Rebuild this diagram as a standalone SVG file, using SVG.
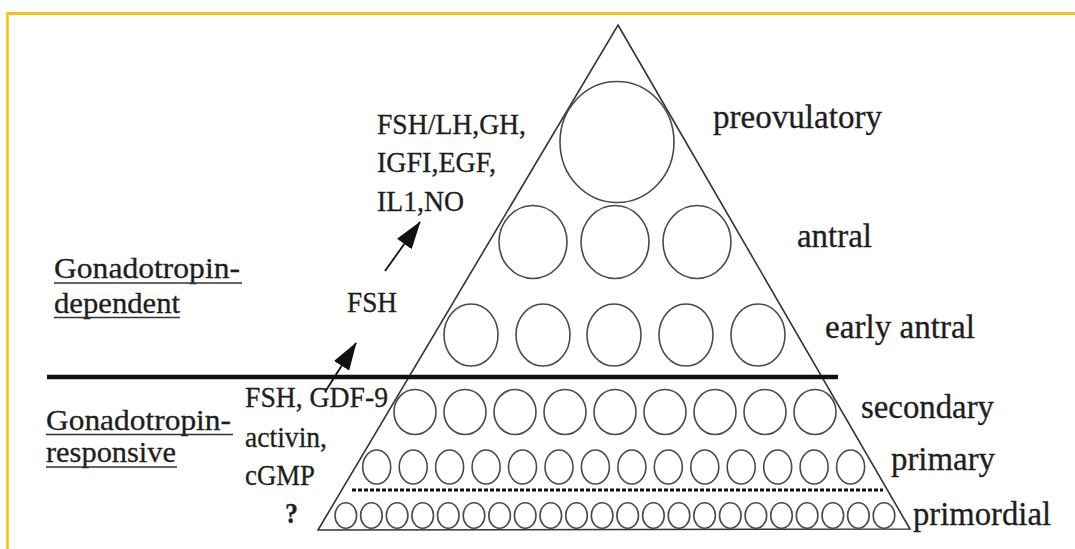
<svg xmlns="http://www.w3.org/2000/svg" width="1075" height="549" viewBox="0 0 1075 549">
<style>
.t{font-family:"Liberation Serif","Times New Roman",serif;fill:#1e1e1e;stroke:#1e1e1e;stroke-width:0.3;}
.l{font-size:33px;}
.s{font-size:29px;}
.f{fill:none;stroke:#4a4a4a;stroke-width:1.6;}
.ul{stroke:#333;stroke-width:1.6;}
</style>
<defs>
<marker id="ah" viewBox="0 0 28 18" refX="27" refY="9" markerWidth="28" markerHeight="18" markerUnits="userSpaceOnUse" orient="auto">
<path d="M0,0 L28,9 L0,18 z" fill="#111"/>
</marker>
</defs>
<rect width="1075" height="549" fill="#fff"/>
<g id="frame">
<line x1="7" y1="13.5" x2="1075" y2="13.5" stroke="#F5C21B" stroke-width="3"/>
<line x1="7.5" y1="12" x2="7.5" y2="549" stroke="#F5C21B" stroke-width="2.6"/>
</g>
<g id="pyramid">
<polygon points="618,25 910,529 318,530" fill="none" stroke="#333" stroke-width="1.6"/>
</g>
<g id="dividers">
<line x1="47" y1="377" x2="838" y2="377" stroke="#111" stroke-width="4.5"/>
<line x1="352" y1="490" x2="883" y2="490" stroke="#111" stroke-width="3" stroke-dasharray="4 2"/>
</g>
<g id="preovulatory-follicles">
<ellipse class="f" cx="617" cy="142" rx="57" ry="60.5"/>
</g>
<g id="antral-follicles">
<ellipse class="f" cx="533" cy="242" rx="34" ry="36.5"/>
<ellipse class="f" cx="615" cy="242" rx="34" ry="36.5"/>
<ellipse class="f" cx="697" cy="242" rx="34" ry="36.5"/>
</g>
<g id="early-antral-follicles">
<ellipse class="f" cx="471" cy="335" rx="27" ry="31"/>
<ellipse class="f" cx="543" cy="335" rx="27" ry="31"/>
<ellipse class="f" cx="614" cy="335" rx="27" ry="31"/>
<ellipse class="f" cx="686" cy="335" rx="27" ry="31"/>
<ellipse class="f" cx="758" cy="335" rx="27" ry="31"/>
</g>
<g id="secondary-follicles">
<ellipse class="f" cx="415" cy="412" rx="21" ry="22.5"/>
<ellipse class="f" cx="465" cy="412" rx="21" ry="22.5"/>
<ellipse class="f" cx="515" cy="412" rx="21" ry="22.5"/>
<ellipse class="f" cx="565" cy="412" rx="21" ry="22.5"/>
<ellipse class="f" cx="615" cy="412" rx="21" ry="22.5"/>
<ellipse class="f" cx="665" cy="412" rx="21" ry="22.5"/>
<ellipse class="f" cx="715" cy="412" rx="21" ry="22.5"/>
<ellipse class="f" cx="765" cy="412" rx="21" ry="22.5"/>
<ellipse class="f" cx="815" cy="412" rx="21" ry="22.5"/>
</g>
<g id="primary-follicles">
<ellipse class="f" cx="376.7" cy="467" rx="14" ry="17"/>
<ellipse class="f" cx="413.2" cy="467" rx="14" ry="17"/>
<ellipse class="f" cx="449.6" cy="467" rx="14" ry="17"/>
<ellipse class="f" cx="486.1" cy="467" rx="14" ry="17"/>
<ellipse class="f" cx="522.5" cy="467" rx="14" ry="17"/>
<ellipse class="f" cx="559" cy="467" rx="14" ry="17"/>
<ellipse class="f" cx="595.4" cy="467" rx="14" ry="17"/>
<ellipse class="f" cx="631.9" cy="467" rx="14" ry="17"/>
<ellipse class="f" cx="668.3" cy="467" rx="14" ry="17"/>
<ellipse class="f" cx="704.8" cy="467" rx="14" ry="17"/>
<ellipse class="f" cx="741.2" cy="467" rx="14" ry="17"/>
<ellipse class="f" cx="777.7" cy="467" rx="14" ry="17"/>
<ellipse class="f" cx="814.1" cy="467" rx="14" ry="17"/>
<ellipse class="f" cx="850.6" cy="467" rx="14" ry="17"/>
</g>
<g id="primordial-follicles">
<ellipse class="f" cx="345.8" cy="515.5" rx="10.8" ry="12.8"/>
<ellipse class="f" cx="371.4" cy="515.5" rx="10.8" ry="12.8"/>
<ellipse class="f" cx="397.1" cy="515.5" rx="10.8" ry="12.8"/>
<ellipse class="f" cx="422.7" cy="515.5" rx="10.8" ry="12.8"/>
<ellipse class="f" cx="448.3" cy="515.5" rx="10.8" ry="12.8"/>
<ellipse class="f" cx="474" cy="515.5" rx="10.8" ry="12.8"/>
<ellipse class="f" cx="499.6" cy="515.5" rx="10.8" ry="12.8"/>
<ellipse class="f" cx="525.2" cy="515.5" rx="10.8" ry="12.8"/>
<ellipse class="f" cx="550.8" cy="515.5" rx="10.8" ry="12.8"/>
<ellipse class="f" cx="576.5" cy="515.5" rx="10.8" ry="12.8"/>
<ellipse class="f" cx="602.1" cy="515.5" rx="10.8" ry="12.8"/>
<ellipse class="f" cx="627.7" cy="515.5" rx="10.8" ry="12.8"/>
<ellipse class="f" cx="653.4" cy="515.5" rx="10.8" ry="12.8"/>
<ellipse class="f" cx="679" cy="515.5" rx="10.8" ry="12.8"/>
<ellipse class="f" cx="704.6" cy="515.5" rx="10.8" ry="12.8"/>
<ellipse class="f" cx="730.3" cy="515.5" rx="10.8" ry="12.8"/>
<ellipse class="f" cx="755.9" cy="515.5" rx="10.8" ry="12.8"/>
<ellipse class="f" cx="781.5" cy="515.5" rx="10.8" ry="12.8"/>
<ellipse class="f" cx="807.1" cy="515.5" rx="10.8" ry="12.8"/>
<ellipse class="f" cx="832.8" cy="515.5" rx="10.8" ry="12.8"/>
<ellipse class="f" cx="858.4" cy="515.5" rx="10.8" ry="12.8"/>
<ellipse class="f" cx="884" cy="515.5" rx="10.8" ry="12.8"/>
</g>
<g id="connectors">
<line x1="385" y1="271" x2="420" y2="222" stroke="#111" stroke-width="1.8" marker-end="url(#ah)"/>
<line x1="325" y1="392" x2="356" y2="343" stroke="#111" stroke-width="1.8" marker-end="url(#ah)"/>
</g>
<g id="stage-labels">
<text class="t l" x="713" y="128" textLength="169" lengthAdjust="spacingAndGlyphs">preovulatory</text>
<text class="t l" x="797" y="247" textLength="75" lengthAdjust="spacingAndGlyphs">antral</text>
<text class="t l" x="825" y="338" textLength="150" lengthAdjust="spacingAndGlyphs">early antral</text>
<text class="t l" x="861" y="418" textLength="133" lengthAdjust="spacingAndGlyphs">secondary</text>
<text class="t l" x="891" y="470" textLength="104" lengthAdjust="spacingAndGlyphs">primary</text>
<text class="t l" x="913" y="525" textLength="138" lengthAdjust="spacingAndGlyphs">primordial</text>
</g>
<g id="factor-labels">
<text class="t s" x="377" y="134" textLength="149" lengthAdjust="spacingAndGlyphs">FSH/LH,GH,</text>
<text class="t s" x="377" y="172" textLength="119" lengthAdjust="spacingAndGlyphs">IGFI,EGF,</text>
<text class="t s" x="377" y="210.5" textLength="87" lengthAdjust="spacingAndGlyphs">IL1,NO</text>
<text class="t s" x="347" y="311.5" textLength="50" lengthAdjust="spacingAndGlyphs">FSH</text>
<text class="t s" x="245" y="406.5" textLength="143" lengthAdjust="spacingAndGlyphs">FSH, GDF-9</text>
<text class="t s" x="245" y="447" textLength="82" lengthAdjust="spacingAndGlyphs">activin,</text>
<text class="t s" x="245" y="485" textLength="70" lengthAdjust="spacingAndGlyphs">cGMP</text>
<text class="t s" x="285" y="523" font-weight="bold" textLength="13" lengthAdjust="spacingAndGlyphs">?</text>
</g>
<g id="dependent-label">
<text class="t s" x="54" y="278" font-size="31" textLength="186" lengthAdjust="spacingAndGlyphs">Gonadotropin-</text>
<line class="ul" x1="54" y1="283" x2="242" y2="283"/>
<text class="t s" x="54" y="313" font-size="31" textLength="126" lengthAdjust="spacingAndGlyphs">dependent</text>
<line class="ul" x1="54" y1="317.5" x2="180" y2="317.5"/>
</g>
<g id="responsive-label">
<text class="t s" x="46" y="430" textLength="185" lengthAdjust="spacingAndGlyphs">Gonadotropin-</text>
<line class="ul" x1="46" y1="434.5" x2="233" y2="434.5"/>
<text class="t s" x="46" y="461.5" textLength="130" lengthAdjust="spacingAndGlyphs">responsive</text>
<line class="ul" x1="46" y1="467" x2="177" y2="467"/>
</g>
</svg>
